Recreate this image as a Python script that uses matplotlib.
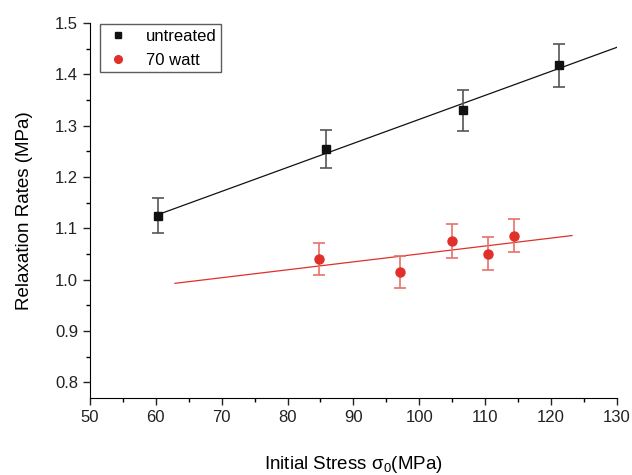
import numpy as np
import matplotlib.pyplot as plt
from matplotlib.ticker import MultipleLocator
from matplotlib.lines import Line2D

plt.rcParams['font.family'] = ['Liberation Sans', 'DejaVu Sans']

# data
x_untreated = [60.4, 85.8, 106.6, 121.3]
y_untreated = [1.125, 1.255, 1.330, 1.418]
err_untreated = [0.034, 0.037, 0.040, 0.042]

x_70w = [84.8, 97.1, 105.0, 110.4, 114.4]
y_70w = [1.041, 1.015, 1.076, 1.051, 1.086]
err_70w = [0.031, 0.031, 0.033, 0.032, 0.032]

# x range over which each fit line is drawn
fit_range_untreated = [60.4, 130.0]
fit_range_70w = [62.9, 123.2]

black = '#111111'
red = '#e1302a'

fig = plt.figure(figsize=(6.32, 4.75), dpi=100)
ax = fig.add_axes([0.1424, 0.1625, 0.8335, 0.7891])

# linear fits
for xs, ys, rng, col in [(x_untreated, y_untreated, fit_range_untreated, black),
                         (x_70w, y_70w, fit_range_70w, red)]:
    k, b = np.polyfit(xs, ys, 1)
    xx = np.array(rng)
    ax.plot(xx, k * xx + b, color=col, lw=0.9, zorder=2)

ax.errorbar(x_untreated, y_untreated, yerr=err_untreated, fmt='s', ms=5.5,
            color=black, ecolor='#555555', elinewidth=1.2, capsize=4, capthick=1.2,
            zorder=3)
ax.errorbar(x_70w, y_70w, yerr=err_70w, fmt='o', ms=6.5,
            color=red, ecolor='#e8716b', elinewidth=1.2, capsize=4, capthick=1.2,
            zorder=3)

ax.set_xlim(50, 130)
ax.set_ylim(0.77, 1.5)
ax.xaxis.set_major_locator(MultipleLocator(10))
ax.xaxis.set_minor_locator(MultipleLocator(5))
ax.yaxis.set_minor_locator(MultipleLocator(0.05))
ax.set_yticks(np.arange(0.8, 1.51, 0.1))
ax.yaxis.set_major_formatter(plt.FormatStrFormatter('%.1f'))

ax.spines['top'].set_visible(False)
ax.spines['right'].set_visible(False)
ax.tick_params(which='major', length=5, width=1, labelsize=12, colors='#222222')
ax.tick_params(which='minor', length=3, width=1)

ax.set_xlabel(r'Initial Stress $\mathregular{\sigma_0}$(MPa)', fontsize=13.5, labelpad=21)
ax.set_ylabel('Relaxation Rates (MPa)', fontsize=13.5, labelpad=16)

handles = [Line2D([], [], ls='none', marker='s', ms=5, color=black),
           Line2D([], [], ls='none', marker='o', ms=5.5, color=red)]
leg = ax.legend(handles, ['untreated', '70 watt'], loc='upper left',
                bbox_to_anchor=(0.013, 1.005), fontsize=12,
                frameon=True, fancybox=False, edgecolor='#333333',
                handletextpad=0.9, borderpad=0.25, labelspacing=0.55,
                handlelength=1.6, borderaxespad=0.2)
leg.get_frame().set_linewidth(1.0)

fig.savefig('out.png', dpi=100)
